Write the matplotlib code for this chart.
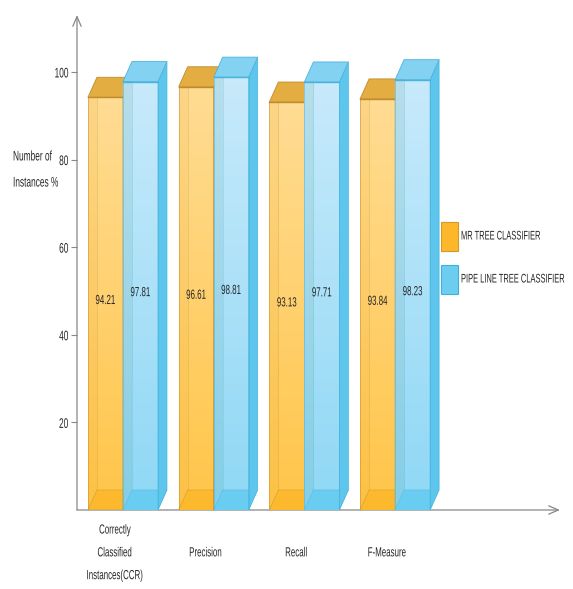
import matplotlib
matplotlib.use('Agg')
import matplotlib.pyplot as plt
import numpy as np
from matplotlib.patches import Polygon, Rectangle
from matplotlib.colors import LinearSegmentedColormap
from matplotlib.patheffects import AbstractPathEffect
from matplotlib.transforms import Affine2D

# data
categories = ['Correctly\nClassified\nInstances(CCR)', 'Precision', 'Recall', 'F-Measure']
mr_tree = [94.21, 96.61, 93.13, 93.84]
pipe_line = [97.81, 98.81, 97.71, 98.23]
series_names = ['MR TREE CLASSIFIER', 'PIPE LINE TREE CLASSIFIER']
yticks = [20, 40, 60, 80, 100]

plt.rcParams['font.family'] = ['Liberation Sans', 'DejaVu Sans']


class Squeeze(AbstractPathEffect):
    """Draw glyphs narrower than the font, like the squashed text in the original."""

    def __init__(self, sx=0.6, anchor='center'):
        super().__init__()
        self.sx = sx
        self.anchor = anchor

    def draw_path(self, renderer, gc, tpath, affine, rgbFace=None):
        ext = tpath.get_extents()
        if self.anchor == 'left':
            a = 0.0
        elif self.anchor == 'right':
            a = ext.x1
        else:
            a = (ext.x0 + ext.x1) / 2
        t = Affine2D().translate(-a, 0).scale(self.sx, 1).translate(a, 0) + affine
        renderer.draw_path(gc, tpath, t, rgbFace)


SX = 0.6
W, H = 573, 589
fig = plt.figure(figsize=(W / 100, H / 100), dpi=100)
ax = fig.add_axes([77 / W, 1 - 510 / H, (560 - 77) / W, (510 - 15) / H])
XMIN, XMAX = -0.507, 4.818
YMAX = 113

width = 0.386
dx, dy = 0.099, 4.57   # fake depth of the boxes
TXT = '#262626'

styles = [
    dict(top='#FFDA8C', bot='#FFC13A', floor='#FDB72A', side='#F0AE35',
         cap='#E4AD42', edge='#BF8C2C', strip='#E7A830', legend='#FDB72A', legend_ec='#D29A28'),
    dict(top='#C4E9FB', bot='#86D5F5', floor='#5FCAF0', side='#5EC6EC',
         cap='#84D2F1', edge='#48B4DD', strip='#4DB8E2', legend='#6CCDF1', legend_ec='#3FB0DA'),
]

z = 2
for i in range(len(categories)):
    for s, (vals, st) in enumerate(zip([mr_tree, pipe_line], styles)):
        h = vals[i]
        x0 = i - width + s * width
        x1 = x0 + width
        bar = ax.bar(x0, h, width=width, align='edge', facecolor='none',
                     edgecolor='none', zorder=z + 2)[0]
        # bottom face seen through the front
        ax.add_patch(Polygon([(x0, 0), (x1, 0), (x1 + dx, dy), (x0 + dx, dy)],
                             closed=True, fc=st['floor'], ec='none', zorder=z))
        # front face gradient
        cmap = LinearSegmentedColormap.from_list('g', [st['bot'], st['top']])
        grad = np.linspace(0, 1, 256).reshape(-1, 1)
        im = ax.imshow(grad, cmap=cmap, extent=[x0, x1, 0, h], origin='lower',
                       aspect='auto', zorder=z + 1, alpha=0.93)
        im.set_clip_path(bar)
        ax.add_patch(Polygon([(x0, 0), (x1, 0), (x1 + dx, dy), (x0 + dx, dy)],
                             closed=True, fc=st['floor'], ec='none', alpha=0.7, zorder=z + 1.5))
        # left face strip seen through the front
        ax.add_patch(Polygon([(x0, 0), (x0 + dx, dy), (x0 + dx, h), (x0, h)],
                             closed=True, fc=st['strip'], ec='none', alpha=0.12, zorder=z + 1.6))
        # hidden back edges
        ax.plot([x0, x0 + dx, x1 + dx], [0, dy, dy], color=st['edge'], lw=0.5, alpha=0.5, zorder=z + 1.7)
        ax.plot([x0 + dx, x0 + dx], [dy, h], color=st['edge'], lw=0.5, alpha=0.35, zorder=z + 1.7)
        # right side face
        ax.add_patch(Polygon([(x1, 0), (x1 + dx, dy), (x1 + dx, h + dy), (x1, h)],
                             closed=True, fc=st['side'], ec=st['edge'], lw=0.5, zorder=z + 2))
        # top face
        ax.add_patch(Polygon([(x0, h), (x0 + dx, h + dy), (x1 + dx, h + dy), (x1, h)],
                             closed=True, fc=st['cap'], ec=st['edge'], lw=0.6, zorder=z + 2))
        # front outline
        ax.plot([x0, x0, x1, x1], [0, h, h, 0], color=st['edge'], lw=0.6, alpha=0.6, zorder=z + 2.5)
        ax.plot([x0, x1], [h, h], color=st['edge'], lw=1.0, zorder=z + 2.6)
        ax.text(x0 + width / 2, h / 2 + 0.6, f'{h:.2f}', ha='center', va='center',
                fontsize=9.5, color=TXT, zorder=z + 3,
                path_effects=[Squeeze(SX, 'center')])
        z += 4

ax.set_xlim(XMIN, XMAX)
ax.set_ylim(0, YMAX)
for sp in ax.spines.values():
    sp.set_visible(False)
ax.set_xticks([])
ax.set_yticks(yticks)
ax.set_yticklabels([str(t) for t in yticks])
for lab in ax.get_yticklabels():
    lab.set_fontsize(10)
    lab.set_color(TXT)
    lab.set_path_effects([Squeeze(SX, 'right')])
ax.tick_params(axis='y', length=4, width=0.8, color='#888888', pad=2)

arrow = dict(arrowstyle='->,head_length=0.7,head_width=0.3', color='#888888', lw=0.9,
             shrinkA=0, shrinkB=0)
ax.annotate('', xy=(1, 0), xytext=(0, 0), xycoords='axes fraction',
            textcoords='axes fraction', arrowprops=arrow, annotation_clip=False)
ax.annotate('', xy=(0, 1), xytext=(0, 0), xycoords='axes fraction',
            textcoords='axes fraction', arrowprops=arrow, annotation_clip=False)

for i, cat in enumerate(categories):
    ax.text(i - 0.09, -9.9, cat, ha='center', va='center', fontsize=9.5,
            color=TXT, linespacing=2.2, clip_on=False,
            path_effects=[Squeeze(SX, 'center')])

fig.text(13 / W, 1 - 169.5 / H, 'Number of\nInstances %', ha='left', va='center',
         fontsize=10, color=TXT, linespacing=2.1,
         path_effects=[Squeeze(SX, 'left')])

# legend
for k, (name, st) in enumerate(zip(series_names, styles)):
    top = 222 + k * 43
    fig.patches.append(Rectangle((441 / W, 1 - (top + 29) / H), 17 / W, 29 / H,
                                 transform=fig.transFigure, fc=st['legend'],
                                 ec=st['legend_ec'], lw=0.8))
    fig.text(461 / W, 1 - (top + 14.5) / H, name, ha='left', va='center',
             fontsize=9, color=TXT, path_effects=[Squeeze(SX, 'left')])

fig.savefig('out.png', dpi=100)
